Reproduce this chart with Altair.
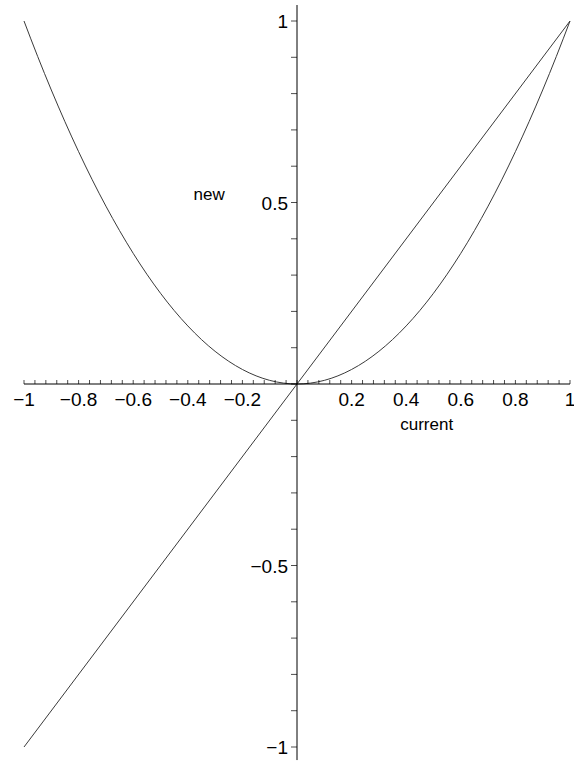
import altair as alt
import pandas as pd
import numpy as np

# Curves: the parabola "new" and the identity line, sampled along x
xs = [-1.0, -0.95, -0.9, -0.85, -0.8, -0.75, -0.7, -0.65, -0.6, -0.55, -0.5,
      -0.45, -0.4, -0.35, -0.3, -0.25, -0.2, -0.15, -0.1, -0.05, 0.0,
      0.05, 0.1, 0.15, 0.2, 0.25, 0.3, 0.35, 0.4, 0.45, 0.5,
      0.55, 0.6, 0.65, 0.7, 0.75, 0.8, 0.85, 0.9, 0.95, 1.0]
parabola = [1.0, 0.9025, 0.81, 0.7225, 0.64, 0.5625, 0.49, 0.4225, 0.36, 0.3025, 0.25,
            0.2025, 0.16, 0.1225, 0.09, 0.0625, 0.04, 0.0225, 0.01, 0.0025, 0.0,
            0.0025, 0.01, 0.0225, 0.04, 0.0625, 0.09, 0.1225, 0.16, 0.2025, 0.25,
            0.3025, 0.36, 0.4225, 0.49, 0.5625, 0.64, 0.7225, 0.81, 0.9025, 1.0]
line_x = [-1.0, 1.0]
line_y = [-1.0, 1.0]

# Axis tick labels
x_label_vals = [-1.0, -0.8, -0.6, -0.4, -0.2, 0.2, 0.4, 0.6, 0.8, 1.0]
x_label_txt = ["\u22121", "\u22120.8", "\u22120.6", "\u22120.4", "\u22120.2",
               "0.2", "0.4", "0.6", "0.8", "1"]
y_label_vals = [1.0, 0.5, -0.5, -1.0]
y_label_txt = ["1", "0.5", "\u22120.5", "\u22121"]

# Annotations
note_txt = ["new", "current"]
note_x = [-0.322, 0.475]
note_y = [0.52, -0.113]

FONT = "Liberation Sans"
xs_scale = alt.Scale(domain=[-1, 1], nice=False, zero=False)
ys_scale = alt.Scale(domain=[-1, 1], nice=False, zero=False)

def X(field):
    return alt.X(field, type="quantitative", scale=xs_scale, axis=None)

def Y(field):
    return alt.Y(field, type="quantitative", scale=ys_scale, axis=None)

# Axis lines through the origin
x_axis = alt.Chart(pd.DataFrame({"a": [-1.0], "b": [1.0], "c": [0.0]})).mark_rule(
    color="black", strokeWidth=1
).encode(x=X("a"), x2="b", y=Y("c"))
y_axis = alt.Chart(pd.DataFrame({"a": [-1.036], "b": [1.044], "c": [0.0]})).mark_rule(
    color="black", strokeWidth=1
).encode(y=Y("a"), y2="b", x=X("c"))

# Tick marks: x every 0.04, y every 0.1
x_ticks = np.round(np.linspace(-1, 1, 51), 2)
y_ticks = np.round(np.linspace(-1, 1, 21), 2)
xt = alt.Chart(pd.DataFrame({"t": x_ticks, "z": 0.0})).mark_tick(
    orient="vertical", size=4, thickness=1, color="black", yOffset=-2
).encode(x=X("t"), y=Y("z"))
yt = alt.Chart(pd.DataFrame({"t": y_ticks, "z": 0.0})).mark_tick(
    orient="horizontal", size=6, thickness=1, color="black", xOffset=-3
).encode(y=Y("t"), x=X("z"))

xl = alt.Chart(pd.DataFrame({"v": x_label_vals, "s": x_label_txt, "z": 0.0})).mark_text(
    font=FONT, fontSize=19, color="black", align="center", baseline="top", dy=7
).encode(x=X("v"), y=Y("z"), text="s:N")
yl = alt.Chart(pd.DataFrame({"v": y_label_vals, "s": y_label_txt, "z": 0.0})).mark_text(
    font=FONT, fontSize=19, color="black", align="right", baseline="middle", dx=-9, dy=1
).encode(y=Y("v"), x=X("z"), text="s:N")

curve = alt.Chart(pd.DataFrame({"x": xs, "y": parabola})).mark_line(
    color="#3a3a3a", strokeWidth=1, interpolate="monotone"
).encode(x=X("x"), y=Y("y"), order="x:Q")
diag = alt.Chart(pd.DataFrame({"x": line_x, "y": line_y})).mark_line(
    color="#3a3a3a", strokeWidth=1
).encode(x=X("x"), y=Y("y"))

notes = alt.Chart(pd.DataFrame({"s": note_txt, "x": note_x, "y": note_y})).mark_text(
    font=FONT, fontSize=17, color="black", align="center", baseline="middle"
).encode(x=X("x"), y=Y("y"), text="s:N")

chart = alt.layer(curve, diag, x_axis, y_axis, xt, yt, xl, yl, notes).properties(
    width=546, height=726,
    padding={"left": 24, "right": 4, "top": 21, "bottom": 15},
    autosize=alt.AutoSizeParams(type="none"),
    background="white",
).configure_view(stroke=None)

chart.save("out.html", embed_options={"renderer": "svg", "actions": False})
